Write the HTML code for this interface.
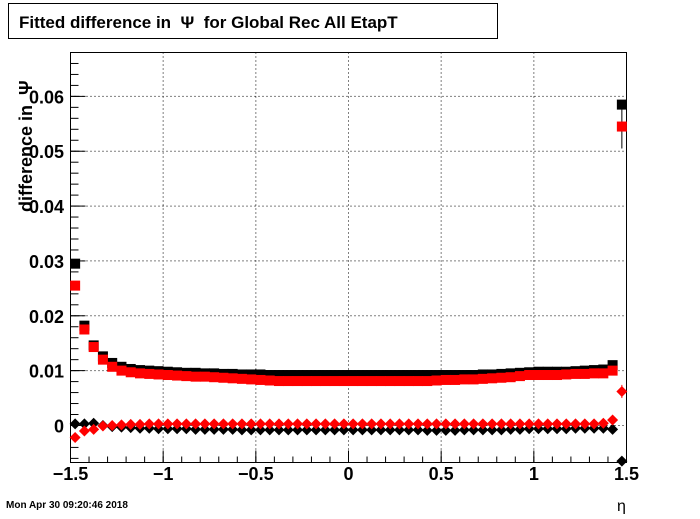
<!DOCTYPE html>
<html><head><meta charset="utf-8"><style>
body{margin:0;background:#fff;width:700px;height:514px;overflow:hidden;font-family:"Liberation Sans","DejaVu Sans",sans-serif}
text{white-space:pre}
</style></head><body>
<svg width="700" height="514" xmlns="http://www.w3.org/2000/svg">
<rect x="0" y="0" width="700" height="514" fill="#fff"/>
<rect x="8.5" y="3.5" width="489" height="35" fill="#fff" stroke="#000"/>
<text x="19" y="28" font-size="17" font-weight="bold" xml:space="preserve">Fitted difference in  Ψ  for Global Rec All EtapT</text>
<g id="grid"></g>
<g id="axes"></g>
<g id="marks"></g>
<text transform="translate(32,212) rotate(-90)" font-size="18" font-weight="bold" xml:space="preserve">difference in  Ψ</text>
<text x="617" y="511" font-size="16">η</text>
<text x="6" y="508" font-size="10" font-weight="bold">Mon Apr 30 09:20:46 2018</text>
</svg>
<script>
const xTicks=[-1.5,-1,-0.5,0,0.5,1,1.5];
const xTickLabels=["\u22121.5","\u22121","\u22120.5","0","0.5","1","1.5"];
const yTicks=[0,0.01,0.02,0.03,0.04,0.05,0.06];
const yTickLabels=["0","0.01","0.02","0.03","0.04","0.05","0.06"];
const etaCenters=Array.from({length:60},(_,i)=>-1.475+0.05*i);
const blackSquares=[0.0295,0.0182,0.0146,0.0126,0.0114,0.0107,0.0103,0.0101,0.0100,0.0099,
0.0098,0.0097,0.0096,0.0096,0.0095,0.0095,0.0094,0.0094,0.0093,0.0093,
0.0093,0.0092,0.0092,0.0092,0.0092,0.0092,0.0092,0.0092,0.0092,0.0092,
0.0092,0.0092,0.0092,0.0092,0.0092,0.0092,0.0092,0.0092,0.0092,0.0092,
0.0092,0.0092,0.0092,0.0092,0.0093,0.0093,0.0094,0.0095,0.0096,0.0097,
0.0098,0.0098,0.0098,0.0098,0.0099,0.0100,0.0101,0.0102,0.0110,0.0585];
const redSquares=[0.0255,0.0175,0.0143,0.0120,0.0107,0.0100,0.0097,0.0095,0.0094,0.0093,
0.0092,0.0091,0.0090,0.0089,0.0089,0.0088,0.0087,0.0086,0.0085,0.0084,
0.0083,0.0082,0.0081,0.0081,0.0081,0.0081,0.0081,0.0081,0.0081,0.0081,
0.0081,0.0081,0.0081,0.0081,0.0081,0.0081,0.0081,0.0081,0.0081,0.0082,
0.0083,0.0083,0.0084,0.0084,0.0085,0.0086,0.0087,0.0088,0.0090,0.0092,
0.0092,0.0092,0.0092,0.0093,0.0094,0.0094,0.0095,0.0095,0.0100,0.0545];
const blackDiamonds=[0.0003,0.0003,0.0004,0.0000,-0.0002,-0.0003,-0.0004,-0.0005,-0.0005,-0.0006,
-0.0006,-0.0006,-0.0006,-0.0007,-0.0007,-0.0007,-0.0007,-0.0007,-0.0008,-0.0008,
-0.0008,-0.0008,-0.0008,-0.0008,-0.0008,-0.0008,-0.0008,-0.0008,-0.0008,-0.0008,
-0.0008,-0.0008,-0.0008,-0.0008,-0.0008,-0.0008,-0.0008,-0.0008,-0.0009,-0.0009,
-0.0009,-0.0009,-0.0008,-0.0008,-0.0008,-0.0008,-0.0008,-0.0007,-0.0007,-0.0006,
-0.0006,-0.0006,-0.0006,-0.0006,-0.0005,-0.0005,-0.0005,-0.0005,-0.0007,-0.0065];
const redDiamonds=[-0.0022,-0.0010,-0.0007,-0.0001,0.0000,0.0001,0.0002,0.0002,0.0003,0.0003,
0.0003,0.0003,0.0003,0.0003,0.0003,0.0003,0.0003,0.0003,0.0003,0.0003,
0.0003,0.0003,0.0003,0.0003,0.0003,0.0003,0.0003,0.0003,0.0003,0.0003,
0.0003,0.0003,0.0003,0.0003,0.0003,0.0003,0.0003,0.0003,0.0003,0.0003,
0.0003,0.0003,0.0003,0.0003,0.0003,0.0003,0.0003,0.0003,0.0003,0.0003,
0.0003,0.0003,0.0003,0.0003,0.0003,0.0003,0.0003,0.0004,0.0010,0.0062];
const redLastErr=0.0040;

const NS="http://www.w3.org/2000/svg";
const L=70.5,R=626.5,T=52.5,B=462.5;
const xMin=-1.5,xMax=1.5,yMin=-0.00675,yMax=0.0680;
function sx(v){return L+(v-xMin)/(xMax-xMin)*(R-L);}
function sy(v){return B-(v-yMin)/(yMax-yMin)*(B-T);}
function mk(tag,attrs,parent){const e=document.createElementNS(NS,tag);for(const k in attrs)e.setAttribute(k,attrs[k]);parent.appendChild(e);return e;}
const grid=document.getElementById('grid'),axes=document.getElementById('axes'),marks=document.getElementById('marks');

xTicks.forEach((t,i)=>{
  const x=sx(t);
  if(i>0&&i<xTicks.length-1){const g=mk('line',{x1:x,x2:x,y1:T,y2:B,stroke:'#000','stroke-dasharray':'1,3'},grid);
  
  }
  const tk=mk('line',{x1:x,x2:x,y1:B,y2:B-12,stroke:'#000'},axes);
  
  
  const lb=mk('text',{x:x,y:480,'text-anchor':'middle','font-size':18,'font-weight':'bold'},axes);
  lb.textContent=xTickLabels[i];
  
  
});
for(let v=-1.5;v<=1.5001;v+=0.1){const x=sx(v);mk('line',{x1:x,x2:x,y1:B,y2:B-6,stroke:'#000'},axes);}
yTicks.forEach((t,i)=>{
  const y=sy(t);
  const g=mk('line',{x1:L,x2:R,y1:y,y2:y,stroke:'#000','stroke-dasharray':'1,3'},grid);
  
  
  const tk=mk('line',{x1:L,x2:L+15,y1:y,y2:y,stroke:'#000'},axes);
  
  
  const lb=mk('text',{x:64,y:y+7,'text-anchor':'end','font-size':18,'font-weight':'bold'},axes);
  lb.textContent=yTickLabels[i];
  
  
});
for(let v=-0.006;v<=0.068;v+=0.002){const y=sy(v);if(y>T&&y<B)mk('line',{x1:L,x2:L+8,y1:y,y2:y,stroke:'#000'},axes);}
const fr=mk('rect',{x:L,y:T,width:R-L,height:B-T,fill:'none',stroke:'#000'},axes);



function clampY(v){return Math.max(T+1,Math.min(B-1,sy(v)));}
function sq(vals,color,name){vals.forEach((v,i)=>{const x=sx(etaCenters[i]),y=clampY(v);
  const r=mk('rect',{x:x-5,y:y-5,width:10,height:10,fill:color},marks);
  
  });}
function dia(vals,color,name){vals.forEach((v,i)=>{const x=sx(etaCenters[i]),y=clampY(v);
  const p=mk('polygon',{points:`${x},${y-5.5} ${x+5.5},${y} ${x},${y+5.5} ${x-5.5},${y}`,fill:color},marks);
  
  });}
const lastX=sx(etaCenters[59]);
const eb=mk('line',{x1:lastX,x2:lastX,y1:sy(redSquares[59]+redLastErr),y2:sy(redSquares[59]-redLastErr),stroke:'#000'},marks);


const eb2=mk('line',{x1:lastX,x2:lastX,y1:sy(redDiamonds[59]+0.0012),y2:sy(redDiamonds[59]-0.0012),stroke:'#f00'},marks);


sq(blackSquares,'#000','black-square-point');
sq(redSquares,'#f00','red-square-point');
dia(blackDiamonds,'#000','black-diamond-point');
dia(redDiamonds,'#f00','red-diamond-point');
</script>
</body></html>
